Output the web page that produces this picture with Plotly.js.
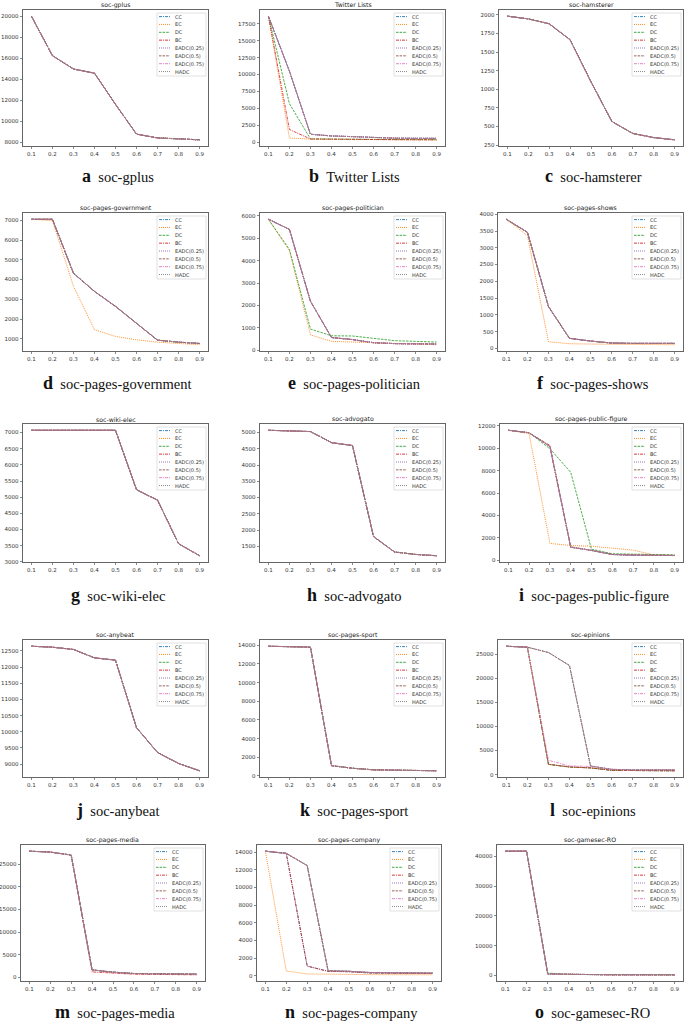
<!DOCTYPE html>
<html><head><meta charset="utf-8">
<script src="https://cdn.plot.ly/plotly-3.0.1.min.js"></script>
<style>html,body{margin:0;padding:0;background:#fff}#chart{width:685px;height:1022px}</style>
</head><body><div id="chart"></div>
<script>
// ---------- data ----------
const X = [0.1, 0.2, 0.3, 0.4, 0.5, 0.6, 0.7, 0.8, 0.9];
const xTickText = ['0.1', '0.2', '0.3', '0.4', '0.5', '0.6', '0.7', '0.8', '0.9'];
const METHODS = ['CC', 'EC', 'DC', 'BC', 'EADC(0.25)', 'EADC(0.5)', 'EADC(0.75)', 'HADC'];

// a soc-gplus (all methods coincide)
const gplus_all = [20000, 16250, 14980, 14580, 11620, 8790, 8430, 8320, 8250];
// b Twitter Lists
const twitter_top = [18600, 10500, 1200, 950, 850, 700, 620, 600, 600];
const twitter_DC = [18600, 5700, 520, 470, 450, 430, 420, 410, 400];
const twitter_BC = [18600, 1900, 500, 450, 430, 410, 400, 390, 380];
const twitter_EC = [18600, 650, 480, 440, 420, 400, 390, 380, 380];
// c soc-hamsterer
const hamsterer_all = [1982, 1946, 1880, 1665, 1100, 565, 405, 350, 320];
// d soc-pages-government
const gov_main = [7050, 7050, 4320, 3400, 2640, 1780, 930, 830, 765];
const gov_EC = [7050, 6980, 3660, 1460, 1120, 950, 830, 760, 700];
// e soc-pages-politician
const pol_main = [5850, 5400, 2190, 570, 480, 340, 300, 290, 280];
const pol_DC = [5850, 4500, 950, 650, 640, 550, 430, 400, 370];
const pol_EC = [5850, 4450, 690, 400, 370, 330, 300, 280, 250];
// f soc-pages-shows
const shows_main = [3850, 3460, 1250, 300, 220, 160, 150, 150, 150];
const shows_EC = [3850, 3360, 200, 140, 130, 120, 115, 110, 110];
// g soc-wiki-elec
const wiki_all = [7070, 7070, 7070, 7070, 7070, 5230, 4910, 3560, 3190];
// h soc-advogato
const advogato_all = [5070, 5060, 5030, 4690, 4600, 1800, 1325, 1250, 1210];
// i soc-pages-public-figure
const pub_main = [11600, 11380, 10150, 1160, 870, 510, 450, 440, 420];
const pub_BC = [11600, 11380, 10250, 1200, 880, 520, 460, 450, 430];
const pub_DC = [11600, 11380, 9950, 7850, 980, 580, 540, 500, 480];
const pub_EC = [11600, 11300, 1500, 1310, 1250, 1100, 900, 470, 400];
// j soc-anybeat
const anybeat_all = [12645, 12615, 12545, 12285, 12215, 10125, 9360, 9020, 8795];
// k soc-pages-sport
const sport_all = [13900, 13880, 13800, 1100, 820, 650, 600, 580, 550];
// l soc-epinions
const epi_top = [26650, 26450, 25350, 22650, 1800, 1100, 1000, 980, 1000];
const epi_mid = [26650, 26450, 2970, 1800, 1700, 1100, 950, 900, 1000];
const epi_low = [26650, 26450, 2140, 1590, 1400, 900, 850, 800, 800];
// m soc-pages-media
const media_main = [27900, 27700, 27040, 1650, 1150, 850, 800, 760, 720];
const media_BC = [27900, 27700, 27040, 1200, 950, 700, 650, 600, 560];
// n soc-pages-company
const comp_top = [14100, 13850, 12470, 560, 500, 360, 330, 310, 300];
const comp_mid = [14100, 13850, 1090, 500, 450, 310, 290, 270, 250];
const comp_EC = [14100, 530, 200, 150, 130, 120, 110, 100, 100];
// o soc-gamesec-RO
const games_main = [41800, 41800, 450, 300, 250, 200, 200, 190, 190];
const games_DC = [41800, 41800, 780, 350, 280, 220, 210, 200, 200];

// y tick values
const ticks_gplus = [8000, 10000, 12000, 14000, 16000, 18000, 20000];
const ticks_twitter = [0, 2500, 5000, 7500, 10000, 12500, 15000, 17500];
const ticks_hamsterer = [250, 500, 750, 1000, 1250, 1500, 1750, 2000];
const ticks_gov = [1000, 2000, 3000, 4000, 5000, 6000, 7000];
const ticks_pol = [0, 1000, 2000, 3000, 4000, 5000, 6000];
const ticks_shows = [0, 500, 1000, 1500, 2000, 2500, 3000, 3500, 4000];
const ticks_wiki = [3000, 3500, 4000, 4500, 5000, 5500, 6000, 6500, 7000];
const ticks_advogato = [1500, 2000, 2500, 3000, 3500, 4000, 4500, 5000];
const ticks_pub = [0, 2000, 4000, 6000, 8000, 10000, 12000];
const ticks_anybeat = [9000, 9500, 10000, 10500, 11000, 11500, 12000, 12500];
const ticks_sport = [0, 2000, 4000, 6000, 8000, 10000, 12000, 14000];
const ticks_epi = [0, 5000, 10000, 15000, 20000, 25000];
const ticks_media = [0, 5000, 10000, 15000, 20000, 25000];
const ticks_comp = [0, 2000, 4000, 6000, 8000, 10000, 12000, 14000];
const ticks_games = [0, 10000, 20000, 30000, 40000];

// ---------- panel table (order of METHODS: CC, EC, DC, BC, EADC.25, EADC.5, EADC.75, HADC) ----------
const PANELS = [
  {t: 'soc-gplus', c: 'a', ticks: ticks_gplus, s: [gplus_all, gplus_all, gplus_all, gplus_all, gplus_all, gplus_all, gplus_all, gplus_all]},
  {t: 'Twitter Lists', c: 'b', ticks: ticks_twitter, s: [twitter_top, twitter_EC, twitter_DC, twitter_BC, twitter_top, twitter_top, twitter_top, twitter_top]},
  {t: 'soc-hamsterer', c: 'c', ticks: ticks_hamsterer, s: [hamsterer_all, hamsterer_all, hamsterer_all, hamsterer_all, hamsterer_all, hamsterer_all, hamsterer_all, hamsterer_all]},
  {t: 'soc-pages-government', c: 'd', ticks: ticks_gov, s: [gov_main, gov_EC, gov_main, gov_main, gov_main, gov_main, gov_main, gov_main]},
  {t: 'soc-pages-politician', c: 'e', ticks: ticks_pol, s: [pol_main, pol_EC, pol_DC, pol_main, pol_main, pol_main, pol_main, pol_main]},
  {t: 'soc-pages-shows', c: 'f', ticks: ticks_shows, s: [shows_main, shows_EC, shows_main, shows_main, shows_main, shows_main, shows_main, shows_main]},
  {t: 'soc-wiki-elec', c: 'g', ticks: ticks_wiki, s: [wiki_all, wiki_all, wiki_all, wiki_all, wiki_all, wiki_all, wiki_all, wiki_all]},
  {t: 'soc-advogato', c: 'h', ticks: ticks_advogato, s: [advogato_all, advogato_all, advogato_all, advogato_all, advogato_all, advogato_all, advogato_all, advogato_all]},
  {t: 'soc-pages-public-figure', c: 'i', ticks: ticks_pub, s: [pub_main, pub_EC, pub_DC, pub_BC, pub_main, pub_main, pub_main, pub_main]},
  {t: 'soc-anybeat', c: 'j', ticks: ticks_anybeat, s: [anybeat_all, anybeat_all, anybeat_all, anybeat_all, anybeat_all, anybeat_all, anybeat_all, anybeat_all]},
  {t: 'soc-pages-sport', c: 'k', ticks: ticks_sport, s: [sport_all, sport_all, sport_all, sport_all, sport_all, sport_all, sport_all, sport_all]},
  {t: 'soc-epinions', c: 'l', ticks: ticks_epi, s: [epi_low, epi_low, epi_low, epi_low, epi_top, epi_top, epi_mid, epi_top]},
  {t: 'soc-pages-media', c: 'm', ticks: ticks_media, s: [media_main, media_main, media_main, media_BC, media_main, media_main, media_main, media_main]},
  {t: 'soc-pages-company', c: 'n', ticks: ticks_comp, s: [comp_mid, comp_EC, comp_top, comp_mid, comp_top, comp_top, comp_top, comp_top]},
  {t: 'soc-gamesec-RO', c: 'o', ticks: ticks_games, s: [games_main, games_main, games_DC, games_main, games_main, games_main, games_main, games_main]}
];

// ---------- styling / layout ----------
const W = 685, H = 1022;
const COLORS = ['#1f77b4', '#ff7f0e', '#2ca02c', '#d62728', '#9467bd', '#8c564b', '#e377c2', '#7f7f7f'];
const DD = '3px,1px,1px,1px', DA = '2.5px,1.1px', DO = '1px,1px';
const DASHES = [DD, DO, DA, DD, DO, DA, DD, DO];
// frames: [left, right, top, bottom] in pixels
const FRAMES = [
  [23, 208, 10, 146], [260, 445, 10, 146], [499, 683, 10, 146],
  [23, 208, 213, 351], [260, 445, 213, 351], [498, 683, 213, 351],
  [23, 208, 424, 562], [260, 445, 424, 562], [500, 683, 424, 562],
  [23, 208, 640, 777], [260, 445, 640, 777], [498, 683, 640, 777],
  [21, 205, 845, 981], [257, 441, 845, 981], [497, 683, 845, 981]
];
const CAPY = [176, 383, 595, 810, 1012];

const px = v => v / W;
const py = v => 1 - v / H;

const traces = [];
const layout = {
  width: W, height: H, margin: {l: 0, r: 0, t: 0, b: 0},
  paper_bgcolor: '#fff', plot_bgcolor: '#fff', showlegend: false,
  font: {family: 'DejaVu Sans', color: '#333'},
  shapes: [], annotations: []
};

PANELS.forEach((p, i) => {
  const n = i + 1;
  const xa = 'x' + (n === 1 ? '' : n), ya = 'y' + (n === 1 ? '' : n);
  const [l, r, t, b] = FRAMES[i];
  let mn = Infinity, mx = -Infinity;
  p.s.forEach(arr => arr.forEach(v => { mn = Math.min(mn, v); mx = Math.max(mx, v); }));
  const pad = (mx - mn) * 0.05;

  p.s.forEach((arr, k) => {
    traces.push({
      type: 'scatter', mode: 'lines', x: X, y: arr, name: METHODS[k],
      xaxis: xa, yaxis: ya, hoverinfo: 'skip',
      line: {color: COLORS[k], width: 0.85, dash: DASHES[k]}
    });
  });

  const axBase = {
    showline: true, mirror: true, linecolor: '#555', linewidth: 0.9,
    ticks: 'outside', ticklen: 2.5, tickwidth: 0.7, tickcolor: '#555',
    showgrid: false, zeroline: false, fixedrange: true,
    tickfont: {family: 'DejaVu Sans', size: 5.5, color: '#333'}
  };
  layout['xaxis' + (n === 1 ? '' : n)] = Object.assign({}, axBase, {
    domain: [px(l), px(r)], anchor: ya, range: [0.06, 0.94],
    tickmode: 'array', tickvals: X, ticktext: xTickText
  });
  layout['yaxis' + (n === 1 ? '' : n)] = Object.assign({}, axBase, {
    domain: [py(b), py(t)], anchor: xa, range: [mn - pad, mx + pad],
    tickmode: 'array', tickvals: p.ticks, ticktext: p.ticks.map(v => String(v))
  });

  // subplot title
  layout.annotations.push({
    xref: 'paper', yref: 'paper', x: px((l + r) / 2), y: py(t - 5),
    xanchor: 'center', yanchor: 'middle', showarrow: false, borderpad: 0,
    text: p.t, font: {family: 'DejaVu Sans', size: 6.2, color: '#222'}
  });
  // caption
  layout.annotations.push({
    xref: 'paper', yref: 'paper', x: px((l + r) / 2 + 2), y: py(CAPY[Math.floor(i / 3)]),
    xanchor: 'center', yanchor: 'middle', showarrow: false,
    text: '<span style="font-size:18px"><b>' + p.c + '</b></span>\u00a0\u00a0' + p.t,
    font: {family: 'Liberation Serif', size: 14.5, color: '#111'}
  });

  // legend box
  const lw = 49, lh = 63;
  const lr = r - 2, ll = lr - lw, lt = t + 3;
  layout.shapes.push({
    type: 'rect', xref: 'paper', yref: 'paper',
    x0: px(ll), x1: px(lr), y0: py(lt), y1: py(lt + lh),
    line: {color: '#d4d4d4', width: 0.7}, fillcolor: 'rgba(255,255,255,0.85)', layer: 'above'
  });
  METHODS.forEach((m, k) => {
    const yy = lt + 3.6 + k * 7.85;
    layout.shapes.push({
      type: 'line', xref: 'paper', yref: 'paper',
      x0: px(ll + 2), x1: px(ll + 13), y0: py(yy), y1: py(yy),
      line: {color: COLORS[k], width: 0.9, dash: DASHES[k]}, layer: 'above'
    });
    layout.annotations.push({
      xref: 'paper', yref: 'paper', x: px(ll + 15.5), y: py(yy),
      xanchor: 'left', yanchor: 'middle', showarrow: false,
      text: m, font: {family: 'DejaVu Sans', size: 5, color: '#333'}
    });
  });
});

Plotly.newPlot('chart', traces, layout, {staticPlot: true, displayModeBar: false});
</script>
</body></html>
